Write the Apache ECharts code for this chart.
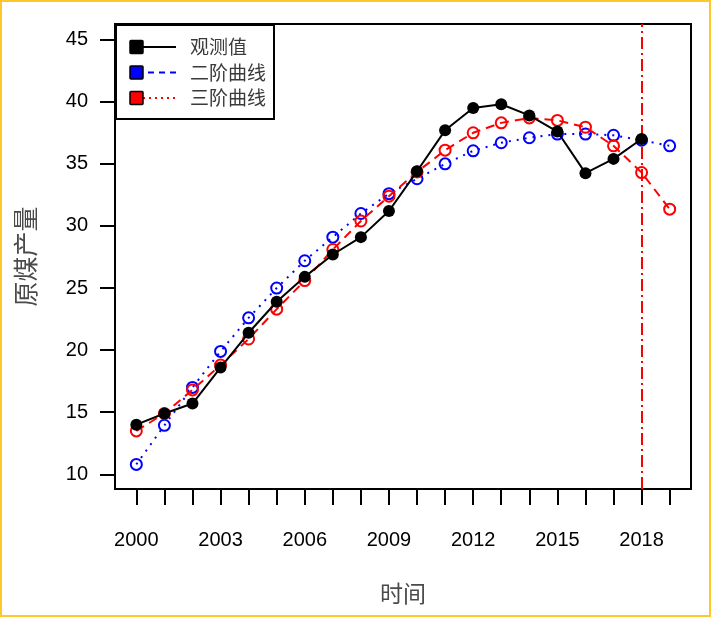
<!DOCTYPE html>
<html>
<head>
<meta charset="utf-8">
<script src="https://cdn.jsdelivr.net/npm/echarts@6/dist/echarts.min.js"></script>
<style>
html,body{margin:0;padding:0;background:#fff;}
#chart{width:711px;height:617px;}
</style>
</head>
<body>
<div id="chart"></div>
<script>
const years = [2000,2001,2002,2003,2004,2005,2006,2007,2008,2009,2010,2011,2012,2013,2014,2015,2016,2017,2018,2019];
const observed = [14.0,14.9,15.7,18.6,21.4,23.9,25.9,27.7,29.1,31.2,34.4,37.7,39.5,39.8,38.9,37.6,34.25,35.4,37.0];
const quadFit = [10.8,13.95,17.0,19.9,22.6,25.0,27.2,29.1,31.0,32.6,33.8,35.0,36.05,36.7,37.1,37.4,37.4,37.3,36.9,36.45];
const cubicFit = [13.5,14.9,16.8,18.8,20.9,23.3,25.6,28.1,30.4,32.4,34.35,36.1,37.5,38.3,38.7,38.5,37.95,36.45,34.3,31.35];
const xTickValues = years;
const xLabelValues = [2000,2003,2006,2009,2012,2015,2018];
const yTickValues = [10,15,20,25,30,35,40,45];
const cutYear = 2018;
const seriesNames = ['观测值','二阶曲线','三阶曲线'];

const pairs = (vals) => vals.map((v,i)=>[years[i], v]);

const chart = echarts.init(document.getElementById('chart'), null, {renderer:'canvas'});
const latin = 'Liberation Sans, Arial, sans-serif';
const cjk = '"Noto Sans CJK SC", sans-serif';

const legendRows = [
  {name: seriesNames[0], color:'#000000', dash: null},
  {name: seriesNames[1], color:'#0000FF', dash: [6,5]},
  {name: seriesNames[2], color:'#FF0000', dash: [2,4]}
];
const legendGraphics = [];
legendGraphics.push({type:'rect', left:115, top:24, shape:{width:158, height:94}, style:{fill:'#fff', stroke:'#000', lineWidth:2}, z:100});
legendRows.forEach((r,i)=>{
  const cy = 47 + i*25.5;
  legendGraphics.push({type:'line', shape:{x1:137, y1:cy, x2:176, y2:cy}, style:{stroke:r.color, lineWidth:2, lineDash:r.dash}, z:101});
  legendGraphics.push({type:'rect', shape:{x:130, y:cy-6.5, width:13, height:13, r:1}, style:{fill:r.color, stroke:'#000', lineWidth:1.5}, z:102});
  legendGraphics.push({type:'text', style:{x:190, y:cy, text:r.name, fill:'#3a3a3a', font:'19px ' + cjk, textVerticalAlign:'middle'}, z:102});
});

const option = {
  animation:false,
  backgroundColor:'#fff',
  grid:{left:115, right:20, top:24, bottom:128, show:true, borderColor:'#000', borderWidth:2, backgroundColor:'transparent'},
  xAxis:{
    type:'value', min:1999.24, max:2019.76,
    name:'时间', nameLocation:'middle', nameGap:93,
    nameTextStyle:{fontFamily:cjk, fontSize:23, color:'#4a4a4a'},
    axisLine:{show:false},
    axisTick:{show:true, inside:false, length:16, lineStyle:{color:'#000', width:2}, customValues:xTickValues},
    axisLabel:{show:true, margin:41, fontFamily:latin, fontSize:20, color:'#000', customValues:xLabelValues, formatter:(v)=>String(v)},
    splitLine:{show:false}
  },
  yAxis:{
    type:'value', min:8.82, max:46.26,
    name:'原煤产量', nameLocation:'middle', nameGap:77, nameRotate:90,
    nameTextStyle:{fontFamily:cjk, fontSize:25, color:'#4a4a4a'},
    axisLine:{show:false},
    axisTick:{show:true, inside:false, length:15, lineStyle:{color:'#000', width:2}, customValues:yTickValues},
    axisLabel:{show:true, margin:27, fontFamily:latin, fontSize:20, color:'#000', customValues:yTickValues},
    splitLine:{show:false}
  },
  series:[
    {
      name:seriesNames[0], type:'line', data:pairs(observed),
      symbol:'circle', symbolSize:12, showAllSymbol:true,
      lineStyle:{color:'#000', width:2}, itemStyle:{color:'#000'}, z:5
    },
    {
      name:seriesNames[1], type:'line', data:pairs(quadFit),
      symbol:'circle', symbolSize:11, showAllSymbol:true,
      lineStyle:{color:'#0000FF', width:2, type:[2,6]},
      itemStyle:{color:'rgba(0,0,0,0)', borderColor:'#0000FF', borderWidth:2}, z:3
    },
    {
      name:seriesNames[2], type:'line', data:pairs(cubicFit),
      symbol:'circle', symbolSize:11, showAllSymbol:true,
      lineStyle:{color:'#FF0000', width:2, type:[9,6]},
      itemStyle:{color:'rgba(0,0,0,0)', borderColor:'#FF0000', borderWidth:2}, z:4,
      markLine:{
        silent:true, symbol:['none','none'], label:{show:false},
        lineStyle:{color:'#FF0000', width:2, type:[12,4,2,4]},
        data:[{xAxis:cutYear}]
      }
    }
  ],
  graphic:[
    {type:'rect', shape:{x:1, y:1, width:709, height:615}, style:{fill:'none', stroke:'#FFC82A', lineWidth:2}, z:200},
    ...legendGraphics
  ]
};
chart.setOption(option);
</script>
</body>
</html>
